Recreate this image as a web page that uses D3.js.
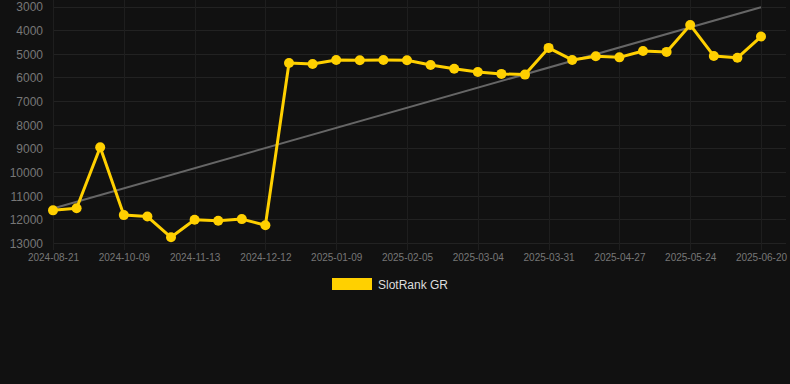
<!DOCTYPE html>
<html>
<head>
<meta charset="utf-8">
<script src="https://cdn.jsdelivr.net/npm/d3@7"></script>
<style>
  body { margin: 0; background: #111111; }
  #canvas { width: 790px; height: 384px; }
</style>
</head>
<body>
<div id="canvas"></div>
<script>
"use strict"

/* chart data */
let dates = ["2024-08-21", "2024-09-06", "2024-09-23", "2024-10-09", "2024-10-21", "2024-11-01",
             "2024-11-13", "2024-11-22", "2024-12-02", "2024-12-12", "2024-12-21", "2024-12-30",
             "2025-01-09", "2025-01-18", "2025-01-27", "2025-02-05", "2025-02-14", "2025-02-23",
             "2025-03-04", "2025-03-13", "2025-03-22", "2025-03-31", "2025-04-09", "2025-04-18",
             "2025-04-27", "2025-05-06", "2025-05-15", "2025-05-24", "2025-06-02", "2025-06-11",
             "2025-06-20"];
let rankValues = [11620, 11530, 8950, 11820, 11880, 12760, 12020, 12060, 11990, 12250,
                  5390, 5430, 5260, 5270, 5260, 5270, 5470, 5630, 5770, 5850, 5880,
                  4750, 5260, 5100, 5150, 4880, 4920, 3780, 5090, 5170, 4270];
let trendValues = [11540, 3030];   // first and last date
let yTicks = [3000, 4000, 5000, 6000, 7000, 8000, 9000, 10000, 11000, 12000, 13000];
let seriesName = "SlotRank GR";

let width = 790, height = 384;
let plotLeft = 53, plotRight = 761, plotTop = 6.5, plotBottom = 243;

let drawing = d3.select("#canvas")
    .append("svg")
    .attr("width", width)
    .attr("height", height)
    .style("font-family", "'Liberation Sans', Arial, sans-serif");

drawing.append("rect")
    .attr("width", width)
    .attr("height", height)
    .attr("fill", "#111111");

let x = d3.scalePoint()
    .domain(dates)
    .range([plotLeft, plotRight]);

let y = d3.scaleLinear()
    .domain([3000, 13000])
    .range([plotTop, plotBottom]);

let xTickDates = dates.filter((d, i) => i % 3 === 0);

// horizontal grid lines
drawing.append("g")
    .selectAll("line")
    .data(yTicks)
    .join("line")
    .attr("x1", plotLeft)
    .attr("x2", 786)
    .attr("y1", d => Math.round(y(d)) + 0.5)
    .attr("y2", d => Math.round(y(d)) + 0.5)
    .attr("stroke", "#222222")
    .attr("stroke-width", 1);

// vertical grid lines
drawing.append("g")
    .selectAll("line")
    .data(xTickDates)
    .join("line")
    .attr("x1", d => Math.round(x(d)) + 0.5)
    .attr("x2", d => Math.round(x(d)) + 0.5)
    .attr("y1", 0)
    .attr("y2", plotBottom + 7)
    .attr("stroke", "#1e1e1e")
    .attr("stroke-width", 1);

// y axis labels
let yAxis = drawing.append("g")
    .attr("transform", "translate(" + (plotLeft - 10) + ",0.5)")
    .call(d3.axisLeft(y).tickValues(yTicks).tickSize(0).tickPadding(0).tickFormat(d3.format("d")));
yAxis.select(".domain").remove();
yAxis.selectAll("text")
    .attr("fill", "#777777")
    .attr("font-size", 12);

// x axis labels
let xAxis = drawing.append("g")
    .attr("transform", "translate(0," + (plotBottom + 10.5) + ")")
    .call(d3.axisBottom(x).tickValues(xTickDates).tickSize(0).tickPadding(0));
xAxis.select(".domain").remove();
xAxis.selectAll("text")
    .attr("fill", "#777777")
    .attr("font-size", 10);

// trend line
drawing.append("line")
    .attr("x1", x(dates[0]))
    .attr("y1", y(trendValues[0]))
    .attr("x2", x(dates[dates.length - 1]))
    .attr("y2", y(trendValues[1]))
    .attr("stroke", "#666666")
    .attr("stroke-width", 2);

// rank line
let rankLine = d3.line()
    .x((d, i) => x(dates[i]))
    .y(d => y(d));

drawing.append("path")
    .datum(rankValues)
    .attr("d", rankLine)
    .attr("fill", "none")
    .attr("stroke", "#ffd000")
    .attr("stroke-width", 3)
    .attr("stroke-linejoin", "round");

drawing.append("g")
    .selectAll("circle")
    .data(rankValues)
    .join("circle")
    .attr("cx", (d, i) => x(dates[i]))
    .attr("cy", d => y(d))
    .attr("r", 5)
    .attr("fill", "#ffd000");

// legend
drawing.append("rect")
    .attr("x", 332)
    .attr("y", 278)
    .attr("width", 40)
    .attr("height", 12)
    .attr("fill", "#ffd000");

drawing.append("text")
    .attr("x", 378)
    .attr("y", 288.5)
    .attr("fill", "#dddddd")
    .attr("font-size", 12)
    .text(seriesName);
</script>
</body>
</html>
